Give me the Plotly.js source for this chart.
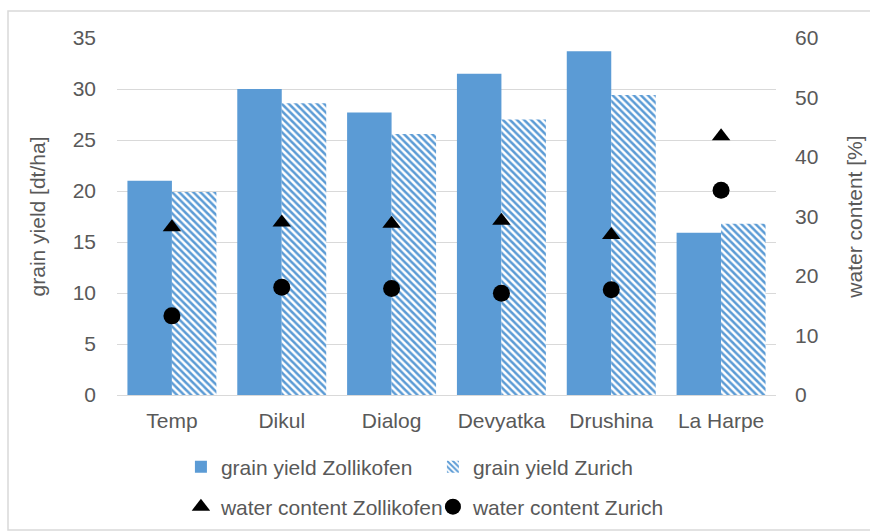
<!DOCTYPE html>
<html>
<head>
<meta charset="utf-8">
<script src="https://cdn.plot.ly/plotly-3.0.1.min.js"></script>
<style>html,body{margin:0;padding:0;background:#fff;}#chart{width:870px;height:531px;}</style>
</head>
<body>
<div id="chart"></div>
<script>
const categories = ["Temp", "Dikul", "Dialog", "Devyatka", "Drushina", "La Harpe"];
const yieldZollikofen = [21.0, 30.0, 27.7, 31.5, 33.7, 15.9];
const yieldZurich = [19.9, 28.6, 25.6, 27.0, 29.4, 16.8];
const waterZollikofen = [28.2, 29.0, 28.8, 29.3, 26.9, 43.5];
const waterZurich = [13.3, 18.1, 17.9, 17.1, 17.7, 34.4];
const leftTicks = [0, 5, 10, 15, 20, 25, 30, 35];
const rightTicks = [0, 10, 20, 30, 40, 50, 60];

const blue = '#5b9bd5';
const txt = '#595959';
const font = 'Liberation Sans, Arial, sans-serif';

const traces = [
  {type: 'bar', name: 'grain yield Zollikofen', x: categories, y: yieldZollikofen,
   marker: {color: blue}, legend: 'legend'},
  {type: 'bar', name: 'grain yield Zurich', x: categories, y: yieldZurich,
   marker: {color: 'white', pattern: {shape: '\\', fgcolor: blue, bgcolor: 'white', size: 5, solidity: 0.5, fillmode: 'replace'}},
   legend: 'legend'},
  {type: 'scatter', mode: 'markers', name: 'water content Zollikofen', x: categories, y: waterZollikofen,
   yaxis: 'y2', marker: {symbol: 'triangle-up', size: 16, color: '#000'}, legend: 'legend2'},
  {type: 'scatter', mode: 'markers', name: 'water content Zurich', x: categories, y: waterZurich,
   yaxis: 'y2', marker: {symbol: 'circle', size: 17, color: '#000'}, legend: 'legend2'}
];

const legendCommon = {orientation: 'h', xanchor: 'left', yanchor: 'middle', x: 0.097,
  font: {family: font, size: 21, color: txt}, entrywidth: 207, entrywidthmode: 'pixels',
  bgcolor: 'rgba(0,0,0,0)', itemclick: false, tracegroupgap: 0};

const layout = {
  width: 870, height: 531,
  margin: {l: 117, r: 94, t: 38, b: 136, autoexpand: false},
  paper_bgcolor: '#fff', plot_bgcolor: '#fff',
  font: {family: font, size: 21, color: txt},
  barmode: 'group', bargap: 0.19, bargroupgap: 0,
  showlegend: true,
  legend: Object.assign({}, legendCommon, {y: -0.2017}),
  legend2: Object.assign({}, legendCommon, {y: -0.3137}),
  xaxis: {type: 'category', showgrid: false, showline: true, linecolor: '#d9d9d9', linewidth: 1,
    ticks: '', tickfont: {family: font, size: 21, color: txt}, ticklabelstandoff: 7, fixedrange: true},
  yaxis: {range: [0, 35], tickvals: leftTicks, showgrid: true, gridcolor: '#d9d9d9', gridwidth: 1,
    zeroline: false, ticks: '', ticklabelstandoff: 20,
    tickfont: {family: font, size: 21, color: txt},
    title: {text: 'grain yield [dt/ha]', font: {family: font, size: 21, color: txt}, standoff: 21}},
  yaxis2: {range: [0, 60], tickvals: rightTicks, overlaying: 'y', side: 'right', showgrid: false,
    zeroline: false, ticks: '', ticklabelstandoff: 18,
    tickfont: {family: font, size: 21, color: txt},
    title: {text: 'water content [%]', font: {family: font, size: 21, color: txt}, standoff: 29}},
  shapes: [{type: 'rect', xref: 'paper', yref: 'paper',
    x0: (8 - 117) / 659, x1: (880 - 117) / 659, y0: (395 - 530) / 357, y1: (395 - 11) / 357,
    line: {color: '#d9d9d9', width: 1.5}, fillcolor: 'rgba(0,0,0,0)', layer: 'below'}]
};

Plotly.newPlot('chart', traces, layout, {staticPlot: true, displayModeBar: false});
</script>
</body>
</html>
